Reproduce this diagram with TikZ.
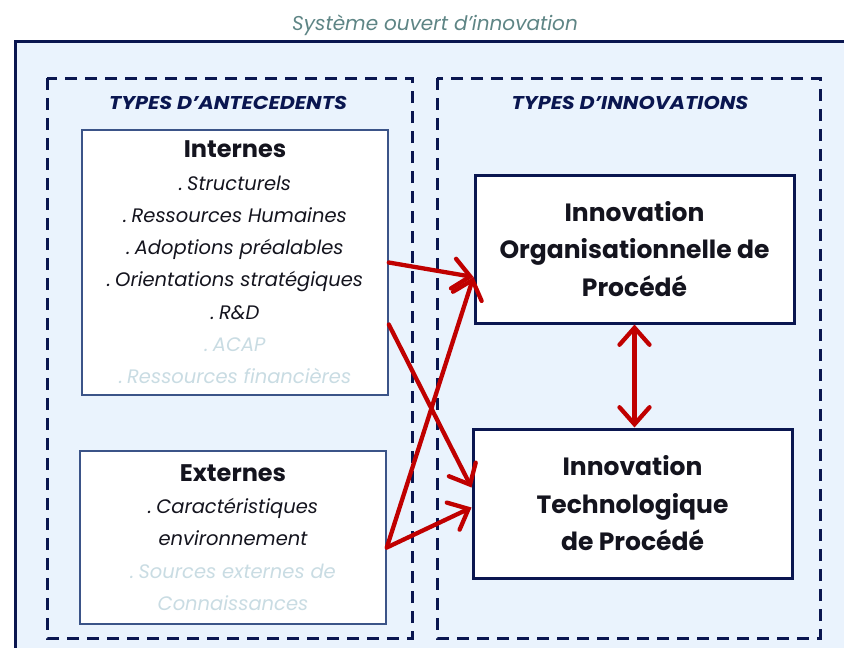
\documentclass[tikz,border=0pt]{standalone}
\usepackage{fontspec}
\setmainfont{Poppins}
\newfontfamily\hdrfont[FakeStretch=1.12]{Poppins}
\usetikzlibrary{arrows.meta}
\definecolor{bgblue}{HTML}{EAF3FD}
\definecolor{navy}{HTML}{0A1650}
\definecolor{boxblue}{HTML}{3B5488}
\definecolor{arrred}{HTML}{C00000}
\definecolor{titlegray}{HTML}{5E8585}
\definecolor{faded}{HTML}{C9DCE3}
\definecolor{txt}{HTML}{14141E}
\newcommand\dsp{.\hspace{0.22em}}
\begin{document}
\begin{tikzpicture}[x=1pt,y=-1pt,
  dashbox/.style={draw=navy, line width=3pt, dash pattern=on 12pt off 8pt},
  antbox/.style={draw=boxblue, line width=1.6pt, fill=white, inner sep=0pt, align=center,
    font=\fontsize{19.5}{32.3}\selectfont\itshape, text=txt},
  innbox/.style={draw=navy, line width=3pt, fill=white, inner sep=0pt, align=center,
    font=\fontsize{25}{37.5}\selectfont\bfseries, text=txt},
  header/.style={font=\hdrfont\fontsize{18.5}{20}\selectfont\bfseries\itshape, text=navy},
  tipstyle/.style={},
  redarrow/.style={draw=arrred, line width=4.3pt, line cap=round,
    -{Straight Barb[length=17pt,width=30pt,line cap=round]}},
  redboth/.style={draw=arrred, line width=4.3pt, line cap=round,
    {Straight Barb[length=17pt,width=30pt,line cap=round]}-{Straight Barb[length=17pt,width=30pt,line cap=round]}}
]
\useasboundingbox (0,0) rectangle (844,648);
\clip (0,0) rectangle (844,648);
\fill[white] (0,0) rectangle (844,648);
\draw[navy, line width=3pt, fill=bgblue] (15,41) rectangle (870,680);
\node[font=\fontsize{20}{22}\selectfont\itshape, text=titlegray] (title) at (435,25) {Système ouvert d’innovation};
\draw[dashbox] (47,78) rectangle (412,638);
\draw[dashbox] (437,78) rectangle (820,638);
\node[header] (h1) at (228,103) {TYPES D’ANTECEDENTS};
\node[header] (h2) at (630,103) {TYPES D’INNOVATIONS};
\node[antbox, minimum width=306pt, minimum height=265pt] (int) at (235,262.5)
  {{\fontsize{24}{32.3}\selectfont\bfseries\upshape Internes}\\
   \dsp Structurels\\
   \dsp Ressources Humaines\\
   \dsp Adoptions préalables\\
   \dsp Orientations stratégiques\\
   \dsp R\&D\\
   \textcolor{faded}{\dsp ACAP}\\
   \textcolor{faded}{\dsp Ressources financières}};
\node[antbox, minimum width=306pt, minimum height=173pt] (ext) at (233,537.5)
  {{\fontsize{24}{32.3}\selectfont\bfseries\upshape Externes}\\
   \dsp Caractéristiques\\
   environnement\\
   \textcolor{faded}{\dsp Sources externes de}\\
   \textcolor{faded}{Connaissances}};
\node[innbox, minimum width=319pt, minimum height=148pt] (org) at (634.5,249)
  {Innovation\\Organisationnelle de\\Procédé};
\node[innbox, minimum width=319pt, minimum height=149pt] (tech) at (632.5,503.5)
  {Innovation\\Technologique\\de Procédé};
\draw[redarrow] (int.east) -- ([yshift=-28pt]org.west);
\draw[redarrow] ([yshift=-62pt]int.east) -- ([yshift=16pt]tech.west);
\draw[redarrow] ([yshift=-10pt]ext.east) -- ([yshift=-28pt]org.west);
\draw[redarrow] ([yshift=-10pt]ext.east) -- ([yshift=-4pt]tech.west);
\draw[redboth] (org.south) -- (org.south |- tech.north);
\end{tikzpicture}
\end{document}
